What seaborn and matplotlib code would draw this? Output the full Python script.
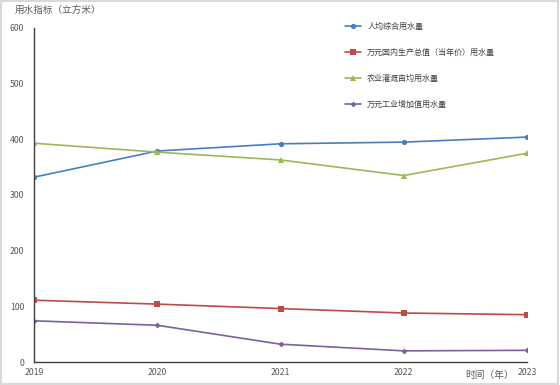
import pandas as pd
import matplotlib.pyplot as plt
import seaborn as sns
from matplotlib.patches import Rectangle

# ─── Data ────────────────────────────────────────────────────
years = [2019, 2020, 2021, 2022, 2023]
per_capita = [332, 379, 392, 395, 404]
per_gdp = [111, 104, 96, 88, 85]
per_mu = [393, 377, 363, 335, 375]
per_industry = [74, 66, 32, 20, 21]

series_names = ['人均综合用水量', '万元国内生产总值（当年价）用水量', '农业灌溉亩均用水量', '万元工业增加值用水量']
series_values = [per_capita, per_gdp, per_mu, per_industry]
y_ticks = [0, 100, 200, 300, 400, 500, 600]

colors = ['#4a7ebb', '#be4b48', '#98b954', '#7d60a0']
markers = ['o', 's', '^', 'D']
marker_sizes = [3.8, 4.2, 4.2, 3.0]

rows = []
for name, vals in zip(series_names, series_values):
    for yr, v in zip(years, vals):
        rows.append({'year': yr, 'value': v, 'series': name})
df = pd.DataFrame(rows)

# ─── Plot ────────────────────────────────────────────────────
sns.set_style('white')
plt.rcParams['font.family'] = ['Noto Sans CJK SC', 'DejaVu Sans']

fig = plt.figure(figsize=(5.6, 3.85), dpi=100)
ax = fig.add_axes([34 / 560, 23 / 385, 493 / 560, 334 / 385])

for name, c, m, ms in zip(series_names, colors, markers, marker_sizes):
    sns.lineplot(data=df[df['series'] == name], x='year', y='value',
                 color=c, marker=m, markersize=ms, markeredgewidth=0,
                 linewidth=1.2, label=name, ax=ax)

ax.set_xlim(years[0], years[-1])
ax.set_ylim(0, 600)
ax.set_xticks(years)
ax.set_yticks(y_ticks)
ax.set_xlabel('')
ax.set_ylabel('')
ax.tick_params(axis='both', labelsize=6.3, labelcolor='#595959', color='#404040',
               direction='in', length=3, width=0.8, pad=4)
ax.tick_params(axis='y', pad=7)

for side in ['top', 'right']:
    ax.spines[side].set_visible(False)
for side in ['left', 'bottom']:
    ax.spines[side].set_color('#404040')
    ax.spines[side].set_linewidth(1.0)

ax.legend(loc='upper left', bbox_to_anchor=(345 / 560, 1 - 22 / 385),
          bbox_transform=fig.transFigure, frameon=False, fontsize=5.8,
          labelspacing=2.1, handlelength=2.0, handletextpad=0.75,
          borderpad=0, borderaxespad=0, labelcolor='#404040')

fig.text(15 / 560, 1 - 10 / 385, '用水指标（立方米）', fontsize=6.9,
         color='#595959', va='center', ha='left')
fig.text(465 / 560, 1 - 375 / 385, '时间（年）', fontsize=7.0,
         color='#595959', va='center', ha='left')

fig.patches.append(Rectangle((0.002, 0.003), 0.994, 0.994, transform=fig.transFigure,
                             fill=False, edgecolor='#d9d9d9', linewidth=1.5))

fig.savefig('out.png', dpi=100)
